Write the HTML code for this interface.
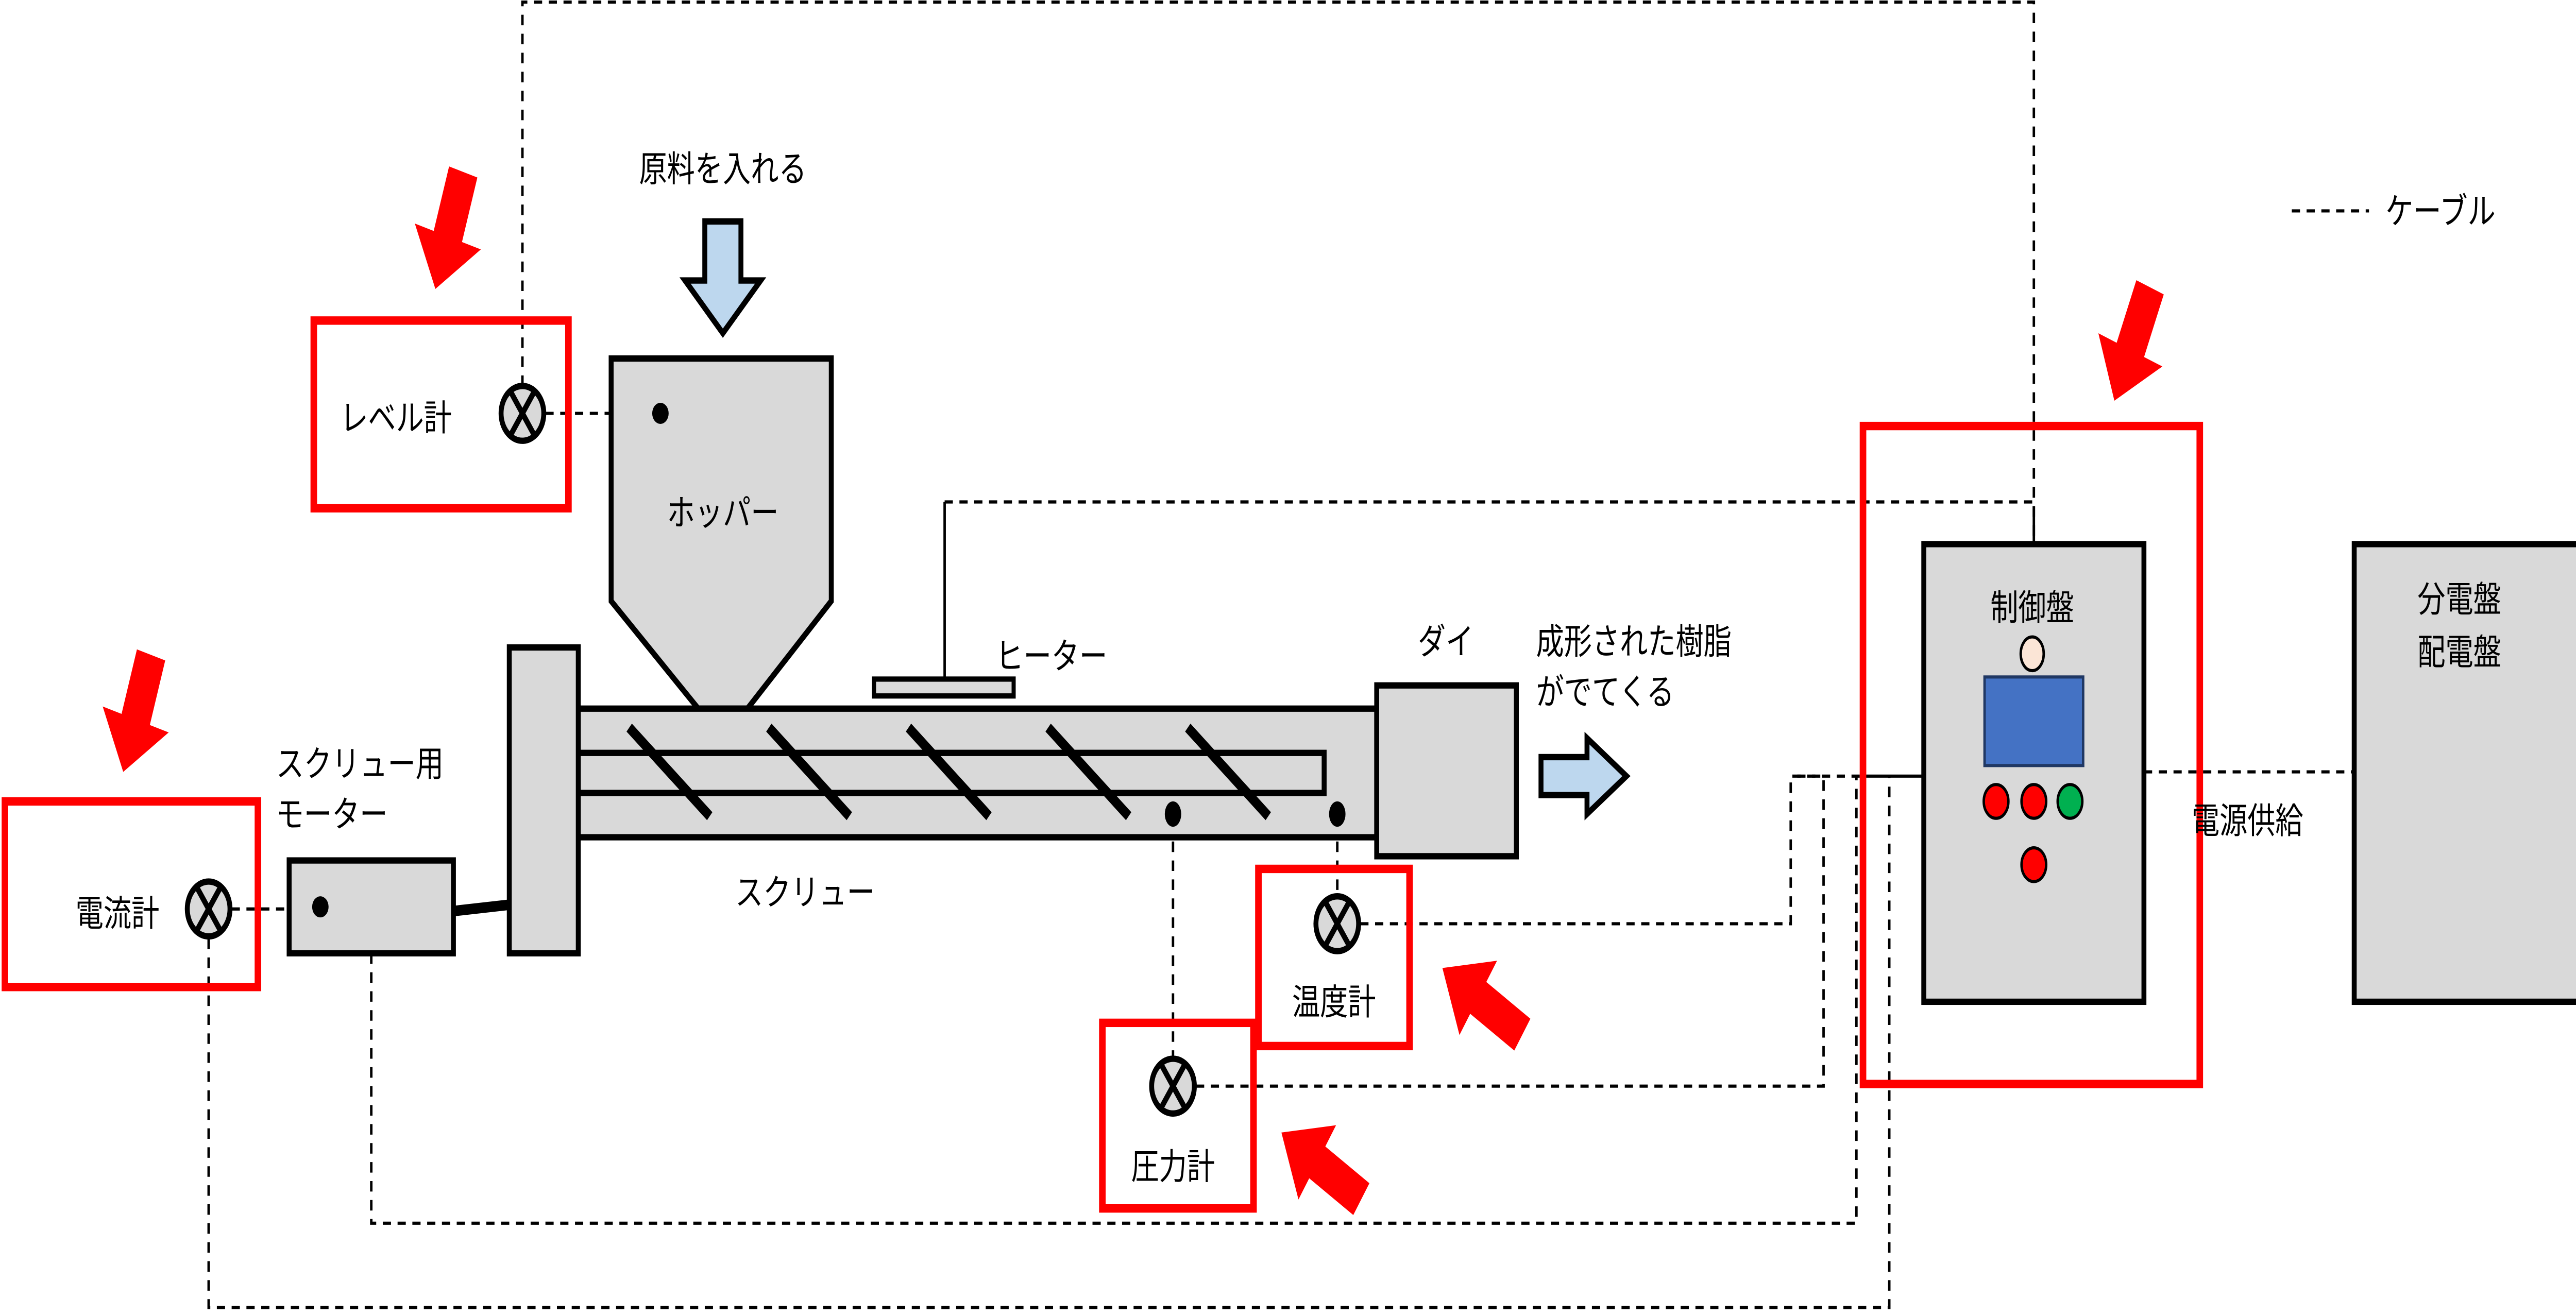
<!DOCTYPE html>
<html><head><meta charset="utf-8"><style>
html,body{margin:0;padding:0;background:#fff;overflow:hidden;width:100%;height:100%;}
svg{display:block;width:100vw;height:100vh;}
text{font-family:"Liberation Sans","Noto Sans CJK JP",sans-serif;font-size:17px;fill:#000;}
</style></head><body>
<svg viewBox="0 0 1568 624" preserveAspectRatio="none" xmlns="http://www.w3.org/2000/svg">
<defs>
<g id="meter"><circle r="13" fill="#d9d9d9" stroke="#000" stroke-width="3"/><line x1="-7" y1="-10" x2="7" y2="10" stroke="#000" stroke-width="3"/><line x1="7" y1="-10" x2="-7" y2="10" stroke="#000" stroke-width="3"/></g>
<polygon id="rarr" points="-58,-9 -26,-9 -26,-21 0,0 -26,21 -26,9 -58,9" fill="#ff0000"/>
</defs>
<g fill="none" stroke="#000" stroke-width="1.5" stroke-dasharray="5,4">
<polyline points="318,183 318,1 1238,1 1238,258"/>
<polyline points="575,238 1238,238"/>
<line x1="332" y1="196" x2="400" y2="196"/>
<line x1="141" y1="431" x2="190" y2="431"/>
<polyline points="127,445 127,620 1150,620 1150,368"/>
<polyline points="226,452 226,580 1130,580 1130,368"/>
<polyline points="714,390 714,501"/>
<polyline points="728,515 1110,515 1110,368 1093,368"/>
<polyline points="814,390 814,424"/>
<polyline points="828,438 1090,438 1090,368 1133,368"/>
<line x1="1305" y1="366" x2="1432" y2="366"/>
<line x1="1395" y1="100" x2="1442" y2="100"/>
</g>
<line x1="1133" y1="368" x2="1170" y2="368" stroke="#000" stroke-width="1.5"/>
<line x1="575" y1="238" x2="575" y2="322" stroke="#000" stroke-width="1.5"/>
<line x1="1238" y1="240" x2="1238" y2="258" stroke="#000" stroke-width="1.5"/>
<polygon points="372,170 506,170 506,285 455,336 425,336 372,285" fill="#d9d9d9" stroke="#000" stroke-width="3"/>
<text x="440" y="249" text-anchor="middle">ホッパー</text>
<circle cx="402" cy="196" r="5" fill="#000"/>
<polygon points="429,105 451,105 451,133 463,133 440,158 417,133 429,133" fill="#bdd7ee" stroke="#000" stroke-width="3"/>
<text x="440" y="86" text-anchor="middle">原料を入れる</text>
<rect x="352" y="336" width="486" height="61" fill="#d9d9d9" stroke="#000" stroke-width="3"/>
<rect x="352" y="357" width="454" height="19" fill="#d9d9d9" stroke="#000" stroke-width="3"/>
<g stroke="#000" stroke-width="5">
<line x1="383" y1="345" x2="432" y2="387"/><line x1="468" y1="345" x2="517" y2="387"/><line x1="553" y1="345" x2="602" y2="387"/><line x1="638" y1="345" x2="687" y2="387"/><line x1="723" y1="345" x2="772" y2="387"/>
</g>
<rect x="310" y="307" width="42" height="145" fill="#d9d9d9" stroke="#000" stroke-width="3"/>
<rect x="532" y="322" width="85" height="8" fill="#d9d9d9" stroke="#000" stroke-width="2.5"/>
<text x="640" y="317" text-anchor="middle">ヒーター</text>
<rect x="838" y="325" width="85" height="81" fill="#d9d9d9" stroke="#000" stroke-width="3"/>
<text x="880" y="310" text-anchor="middle">ダイ</text>
<polygon points="938,359 966,359 966,350 990,368 966,386 966,377 938,377" fill="#bdd7ee" stroke="#000" stroke-width="3"/>
<text x="935" y="310">成形された樹脂</text>
<text x="935" y="334">がでてくる</text>
<ellipse cx="714" cy="386" rx="5" ry="6" fill="#000"/>
<ellipse cx="814" cy="386" rx="5" ry="6" fill="#000"/>
<text x="490" y="429" text-anchor="middle">スクリュー</text>
<rect x="176" y="408" width="100" height="44" fill="#d9d9d9" stroke="#000" stroke-width="3"/>
<circle cx="195" cy="430" r="5" fill="#000"/>
<line x1="276" y1="432" x2="310" y2="429" stroke="#000" stroke-width="5"/>
<text x="168" y="368">スクリュー用</text>
<text x="168" y="392">モーター</text>
<g fill="none" stroke="#ff0000" stroke-width="4">
<rect x="191" y="152" width="155" height="89"/>
<rect x="3" y="380" width="154" height="88"/>
<rect x="766" y="412" width="92" height="84"/>
<rect x="671" y="485" width="92" height="88"/>
<rect x="1134" y="202" width="205" height="312"/>
</g>
<use href="#meter" x="318" y="196"/>
<text x="207" y="204">レベル計</text>
<use href="#meter" x="127" y="431"/>
<text x="46" y="439">電流計</text>
<use href="#meter" x="814" y="438"/>
<text x="812" y="481" text-anchor="middle">温度計</text>
<use href="#meter" x="714" y="515"/>
<text x="714" y="559" text-anchor="middle">圧力計</text>
<rect x="1171" y="258" width="134" height="217" fill="#d9d9d9" stroke="#000" stroke-width="3"/>
<text x="1237" y="294" text-anchor="middle">制御盤</text>
<ellipse cx="1237" cy="310" rx="7" ry="8" fill="#fbe5d6" stroke="#000" stroke-width="1.5"/>
<rect x="1208" y="321" width="60" height="42" fill="#4472c4" stroke="#203864" stroke-width="1.5"/>
<g stroke="#000" stroke-width="1.5">
<ellipse cx="1215" cy="380" rx="7.5" ry="8" fill="#ff0000"/>
<ellipse cx="1238" cy="380" rx="7.5" ry="8" fill="#ff0000"/>
<ellipse cx="1260" cy="380" rx="7.5" ry="8" fill="#00b050"/>
<ellipse cx="1238" cy="410" rx="7.5" ry="8" fill="#ff0000"/>
</g>
<text x="1368" y="395" text-anchor="middle">電源供給</text>
<rect x="1433" y="258" width="140" height="217" fill="#d9d9d9" stroke="#000" stroke-width="3"/>
<text x="1497" y="290" text-anchor="middle">分電盤</text>
<text x="1497" y="315" text-anchor="middle">配電盤</text>
<text x="1452" y="106">ケーブル</text>
<use href="#rarr" transform="translate(265,137) rotate(107)"/>
<use href="#rarr" transform="translate(75,366) rotate(107)"/>
<use href="#rarr" transform="translate(1287,190) rotate(112)"/>
<use href="#rarr" transform="translate(878,459) rotate(213)"/>
<use href="#rarr" transform="translate(780,537) rotate(213)"/>
</svg>
</body></html>
